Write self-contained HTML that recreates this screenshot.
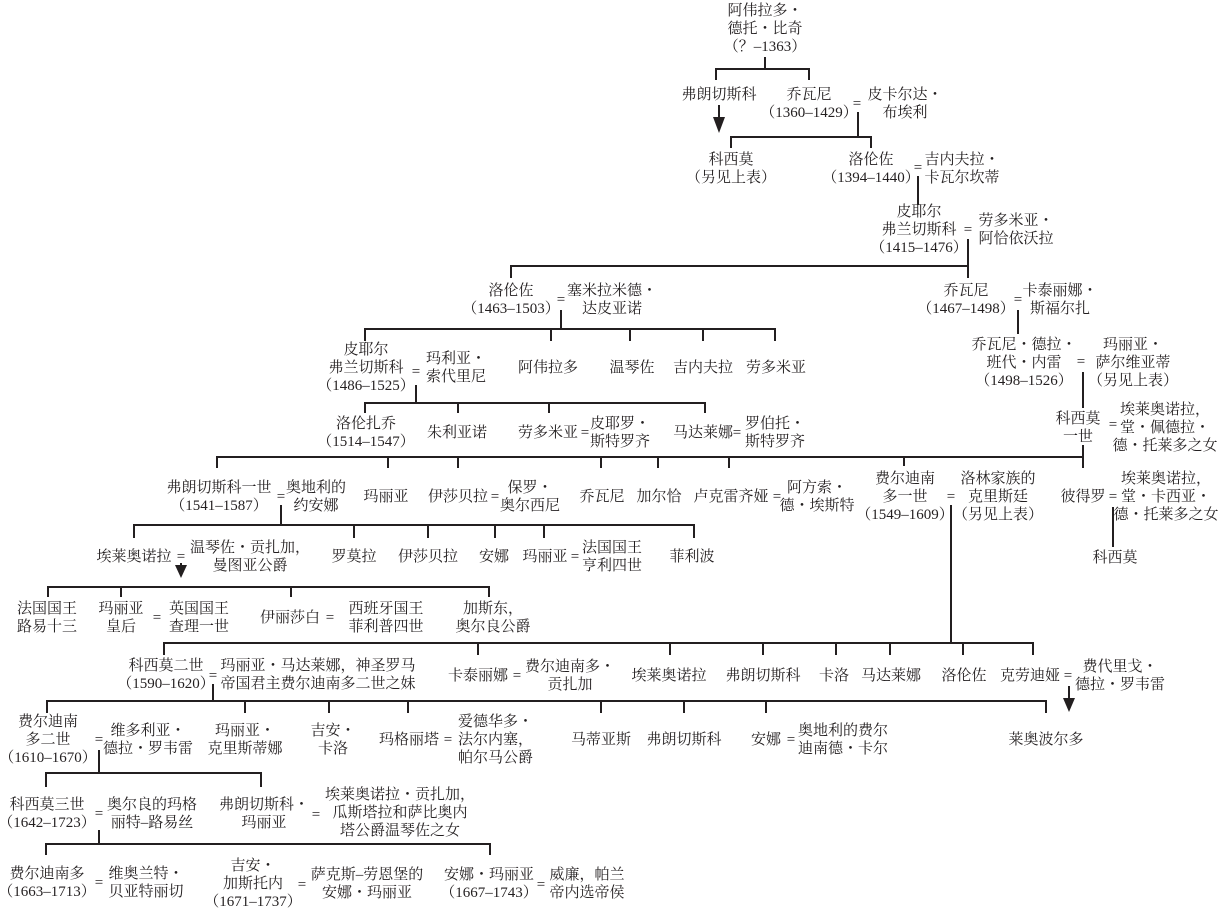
<!DOCTYPE html>
<html><head><meta charset="utf-8">
<style>
html,body{margin:0;padding:0;background:#fff;}
body{width:1224px;height:910px;position:relative;overflow:hidden;font-family:"Liberation Serif","Noto Serif CJK SC",serif;font-size:15px;color:#231f20;}
.c{position:absolute;transform:translate(-50%,-50%);text-align:center;line-height:18px;white-space:nowrap;}
.l{position:absolute;transform:translate(0,-50%);text-align:left;line-height:18px;white-space:nowrap;}
.d{font-family:"Noto Serif CJK SC",serif;}
svg{position:absolute;left:0;top:0;}
</style></head><body>
<svg width="1224" height="910" viewBox="0 0 1224 910">
<g fill="none" stroke="#231f20" stroke-width="2">
<path d="M765 57V69M716 80V69H809V80"/>
<path d="M719 105V120"/>
<path d="M858 112V137M731 148V137H871V148"/>
<path d="M918 176V205"/>
<path d="M968 239V278M511 278V266H968"/>
<path d="M561 310V329M365 341V329H775V341M551 329V341M630 329V341M703 329V341"/>
<path d="M1018 310V334"/>
<path d="M416 385V403M365 413V403H705V413M458 403V413M549 403V413"/>
<path d="M1083 372V408M1083 445V468M217 468V457H1083M388 457V468M458 457V468M601 457V468M658 457V468M729 457V468M904 457V466"/>
<path d="M281 505V525M134 538V525H694V538M354 525V538M428 525V538M495 525V538M544 525V538"/>
<path d="M1113 507V547"/>
<path d="M181 563V567"/>
<path d="M48 597V587H489V597M121 587V597M291 587V597"/>
<path d="M951 505V643M164 655V643H1033V655M478 643V655M670 643V655M763 643V655M836 643V655M890 643V655M963 643V655"/>
<path d="M1069 686V700"/>
<path d="M213 684V701M47 713V701H1046V713M245 701V713M329 701V713M408 701V713M601 701V713M684 701V713M766 701V713"/>
<path d="M99 750V773M46 787V773H261V787"/>
<path d="M99 830V844M46 855V844H490V855"/>
</g>
<g fill="#231f20">
<polygon points="713,117 725,117 719,133"/>
<polygon points="175,565 187,565 181,578"/>
<polygon points="1063,698 1075,698 1069,712"/>
</g>
</svg>

<div class="c" style="left:765px;top:29px">阿伟拉多・<br>德托・比奇<br>（？–1363）</div>
<div class="c" style="left:719px;top:95px">弗朗切斯科</div>
<div class="c" style="left:809px;top:104px">乔瓦尼<br>（1360–1429）</div>
<div class="c" style="left:857px;top:104px">=</div>
<div class="c" style="left:905px;top:104px">皮卡尔达・<br>布埃利</div>
<div class="c" style="left:731px;top:169px">科西莫<br>（另见上表）</div>
<div class="c" style="left:871px;top:169px">洛伦佐<br>（1394–1440）</div>
<div class="c" style="left:918px;top:168px">=</div>
<div class="c" style="left:962px;top:169px">吉内夫拉・<br>卡瓦尔坎蒂</div>
<div class="c" style="left:919px;top:230px">皮耶尔<br>弗兰切斯科<br>（1415–1476）</div>
<div class="c" style="left:968px;top:230px">=</div>
<div class="c" style="left:1016px;top:230px">劳多米亚・<br>阿恰依沃拉</div>

<div class="c" style="left:511px;top:300px">洛伦佐<br>（1463–1503）</div>
<div class="c" style="left:561px;top:300px">=</div>
<div class="c" style="left:612px;top:300px">塞米拉米德・<br>达皮亚诺</div>
<div class="c" style="left:966px;top:300px">乔瓦尼<br>（1467–1498）</div>
<div class="c" style="left:1018px;top:300px">=</div>
<div class="c" style="left:1060px;top:300px">卡泰丽娜・<br>斯福尔扎</div>

<div class="c" style="left:366px;top:368px">皮耶尔<br>弗兰切斯科<br>（1486–1525）</div>
<div class="c" style="left:416px;top:372px">=</div>
<div class="c" style="left:456px;top:368px">玛利亚・<br>索代里尼</div>
<div class="c" style="left:548px;top:368px">阿伟拉多</div>
<div class="c" style="left:632px;top:368px">温琴佐</div>
<div class="c" style="left:703px;top:368px">吉内夫拉</div>
<div class="c" style="left:776px;top:368px">劳多米亚</div>
<div class="c" style="left:1024px;top:363px">乔瓦尼・德拉・<br>班代・内雷<br>（1498–1526）</div>
<div class="c" style="left:1081px;top:362px">=</div>
<div class="c" style="left:1133px;top:363px">玛丽亚・<br>萨尔维亚蒂<br>（另见上表）</div>

<div class="c" style="left:366px;top:433px">洛伦扎乔<br>（1514–1547）</div>
<div class="c" style="left:457px;top:433px">朱利亚诺</div>
<div class="c" style="left:548px;top:433px">劳多米亚</div>
<div class="c" style="left:585px;top:433px">=</div>
<div class="c" style="left:620px;top:433px">皮耶罗・<br>斯特罗齐</div>
<div class="c" style="left:703px;top:433px">马达莱娜</div>
<div class="c" style="left:737px;top:433px">=</div>
<div class="c" style="left:775px;top:433px">罗伯托・<br>斯特罗齐</div>
<div class="c" style="left:1078px;top:428px">科西莫<br>一世</div>
<div class="c" style="left:1113px;top:425px">=</div>
<div class="c" style="left:1165px;top:428px">埃莱奥诺拉，<br>堂・佩德拉・<br>德・托莱多之女</div>

<div class="c" style="left:219px;top:497px">弗朗切斯科一世<br>（1541–1587）</div>
<div class="c" style="left:281px;top:497px">=</div>
<div class="c" style="left:316px;top:497px">奥地利的<br>约安娜</div>
<div class="c" style="left:386px;top:497px">玛丽亚</div>
<div class="c" style="left:458px;top:497px">伊莎贝拉</div>
<div class="c" style="left:495px;top:497px">=</div>
<div class="c" style="left:530px;top:497px">保罗・<br>奥尔西尼</div>
<div class="c" style="left:602px;top:497px">乔瓦尼</div>
<div class="c" style="left:659px;top:497px">加尔恰</div>
<div class="c" style="left:731px;top:497px">卢克雷齐娅</div>
<div class="c" style="left:777px;top:497px">=</div>
<div class="c" style="left:817px;top:497px">阿方索・<br>德・埃斯特</div>
<div class="c" style="left:905px;top:497px">费尔迪南<br>多一世<br>（1549–1609）</div>
<div class="c" style="left:951px;top:497px">=</div>
<div class="c" style="left:998px;top:497px">洛林家族的<br>克里斯廷<br>（另见上表）</div>
<div class="c" style="left:1083px;top:497px">彼得罗</div>
<div class="c" style="left:1113px;top:497px">=</div>
<div class="c" style="left:1166px;top:497px">埃莱奥诺拉，<br>堂・卡西亚・<br>德・托莱多之女</div>

<div class="c" style="left:134px;top:557px">埃莱奥诺拉</div>
<div class="c" style="left:181px;top:557px">=</div>
<div class="c" style="left:250px;top:557px">温琴佐・贡扎加，<br>曼图亚公爵</div>
<div class="c" style="left:354px;top:557px">罗莫拉</div>
<div class="c" style="left:428px;top:557px">伊莎贝拉</div>
<div class="c" style="left:494px;top:557px">安娜</div>
<div class="c" style="left:545px;top:557px">玛丽亚</div>
<div class="c" style="left:575px;top:557px">=</div>
<div class="c" style="left:612px;top:557px">法国国王<br>亨利四世</div>
<div class="c" style="left:692px;top:557px">菲利波</div>
<div class="c" style="left:1115px;top:558px">科西莫</div>

<div class="c" style="left:47px;top:618px">法国国王<br>路易十三</div>
<div class="c" style="left:121px;top:618px">玛丽亚<br>皇后</div>
<div class="c" style="left:157px;top:618px">=</div>
<div class="c" style="left:199px;top:618px">英国国王<br>查理一世</div>
<div class="c" style="left:290px;top:618px">伊丽莎白</div>
<div class="c" style="left:330px;top:618px">=</div>
<div class="c" style="left:386px;top:618px">西班牙国王<br>菲利普四世</div>
<div class="c" style="left:493px;top:618px">加斯东，<br>奥尔良公爵</div>

<div class="c" style="left:166px;top:675px">科西莫二世<br>（1590–1620）</div>
<div class="c" style="left:213px;top:676px">=</div>
<div class="c" style="left:318px;top:675px">玛丽亚・马达莱娜，神圣罗马<br>帝国君主费尔迪南多二世之妹</div>
<div class="c" style="left:478px;top:676px">卡泰丽娜</div>
<div class="c" style="left:517px;top:676px">=</div>
<div class="c" style="left:570px;top:676px">费尔迪南多・<br>贡扎加</div>
<div class="c" style="left:669px;top:676px">埃莱奥诺拉</div>
<div class="c" style="left:763px;top:676px">弗朗切斯科</div>
<div class="c" style="left:834px;top:676px">卡洛</div>
<div class="c" style="left:891px;top:676px">马达莱娜</div>
<div class="c" style="left:964px;top:676px">洛伦佐</div>
<div class="c" style="left:1030px;top:676px">克劳迪娅</div>
<div class="c" style="left:1068px;top:676px">=</div>
<div class="c" style="left:1120px;top:676px">费代里戈・<br>德拉・罗韦雷</div>

<div class="c" style="left:48px;top:740px">费尔迪南<br>多二世<br>（1610–1670）</div>
<div class="c" style="left:99px;top:740px">=</div>
<div class="c" style="left:148px;top:740px">维多利亚・<br>德拉・罗韦雷</div>
<div class="c" style="left:245px;top:740px">玛丽亚・<br>克里斯蒂娜</div>
<div class="c" style="left:333px;top:740px">吉安・<br>卡洛</div>
<div class="c" style="left:409px;top:740px">玛格丽塔</div>
<div class="c" style="left:448px;top:740px">=</div>
<div class="l" style="left:458px;top:740px">爱德华多・<br>法尔内塞，<br>帕尔马公爵</div>
<div class="c" style="left:601px;top:740px">马蒂亚斯</div>
<div class="c" style="left:684px;top:740px">弗朗切斯科</div>
<div class="c" style="left:766px;top:740px">安娜</div>
<div class="c" style="left:791px;top:740px">=</div>
<div class="c" style="left:843px;top:740px">奥地利的费尔<br>迪南德・卡尔</div>
<div class="c" style="left:1046px;top:740px">莱奥波尔多</div>

<div class="c" style="left:47px;top:814px">科西莫三世<br>（1642–1723）</div>
<div class="c" style="left:99px;top:814px">=</div>
<div class="c" style="left:152px;top:814px">奥尔良的玛格<br>丽特–路易丝</div>
<div class="c" style="left:264px;top:814px">弗朗切斯科・<br>玛丽亚</div>
<div class="c" style="left:316px;top:815px">=</div>
<div class="c" style="left:400px;top:813px">埃莱奥诺拉・贡扎加，<br>瓜斯塔拉和萨比奥内<br>塔公爵温琴佐之女</div>

<div class="c" style="left:47px;top:883px">费尔迪南多<br>（1663–1713）</div>
<div class="c" style="left:99px;top:883px">=</div>
<div class="c" style="left:146px;top:883px">维奥兰特・<br>贝亚特丽切</div>
<div class="c" style="left:253px;top:884px">吉安・<br>加斯托内<br>（1671–1737）</div>
<div class="c" style="left:302px;top:885px">=</div>
<div class="c" style="left:367px;top:884px">萨克斯–劳恩堡的<br>安娜・玛丽亚</div>
<div class="c" style="left:489px;top:884px">安娜・玛丽亚<br>（1667–1743）</div>
<div class="c" style="left:541px;top:885px">=</div>
<div class="c" style="left:587px;top:884px">威廉，帕兰<br>帝内选帝侯</div>
</body></html>
